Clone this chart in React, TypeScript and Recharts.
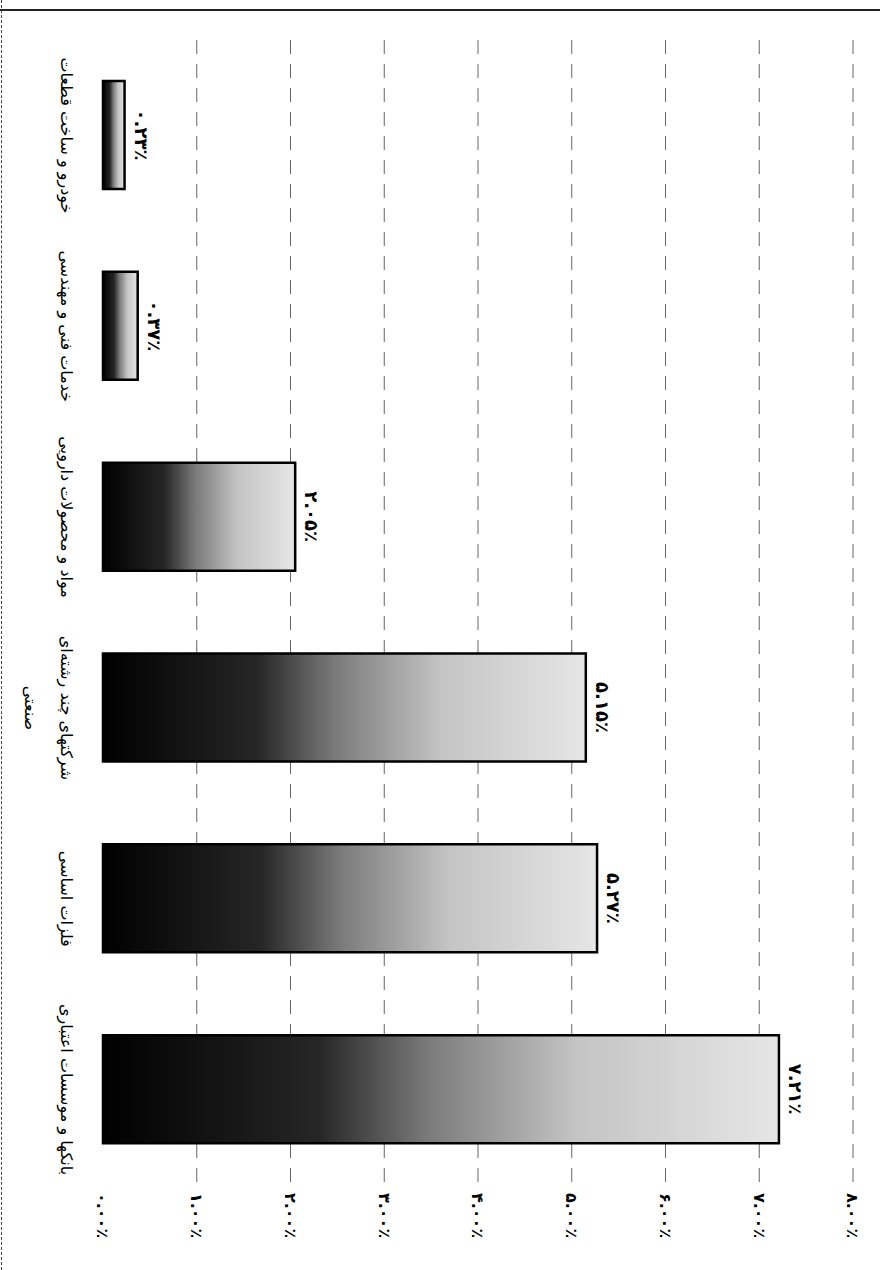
import { BarChart, Bar, XAxis, YAxis, CartesianGrid, LabelList } from 'recharts'

// the scanned page is turned a quarter clockwise, so the chart is drawn upright and rotated with CSS
const categories = [
  'بانکها و موسسات اعتباری',
  'فلزات اساسی',
  'شرکتهای چند رشته‌ای\nصنعتی',
  'مواد و محصولات دارویی',
  'خدمات فنی و مهندسی',
  'خودرو و ساخت قطعات',
]
const values = [7.21, 5.27, 5.15, 2.05, 0.37, 0.23]
const valueLabels = ['۷.۲۱٪', '۵.۲۷٪', '۵.۱۵٪', '۲.۰۵٪', '۰.۳۷٪', '۰.۲۳٪']
const tickValues = [0, 1, 2, 3, 4, 5, 6, 7, 8]
const tickLabels = ['۰.۰۰٪', '۱.۰۰٪', '۲.۰۰٪', '۳.۰۰٪', '۴.۰۰٪', '۵.۰۰٪', '۶.۰۰٪', '۷.۰۰٪', '۸.۰۰٪']

const data = categories.map((name, i) => ({ name, value: values[i], label: valueLabels[i] }))

const FONT = '"DejaVu Sans", sans-serif'

function CategoryTick({ x, y, payload }: any) {
  const lines = String(payload.value).split('\n')
  return (
    <text x={x} y={y} textAnchor="middle" fontFamily={FONT} fontSize={16} fill="#000">
      {lines.map((line, i) => (
        <tspan key={i} x={x} dy={i === 0 ? 34 : 36}>
          {line}
        </tspan>
      ))}
    </text>
  )
}

export default function App() {
  return (
    <div style={{ position: 'absolute', left: 0, top: 0, width: 890, height: 1270, background: '#fff', overflow: 'hidden' }}>
      {/* page edges from the scan */}
      <div style={{ position: 'absolute', left: 0, top: 9, width: 880, height: 0, borderTop: '2px solid #222' }} />
      <div style={{ position: 'absolute', left: 1, top: 0, width: 0, height: 1270, borderLeft: '1px dashed #444' }} />
      <div
        style={{
          position: 'absolute',
          left: 0,
          top: 0,
          width: 1270,
          height: 890,
          transformOrigin: '0 0',
          transform: 'translateX(890px) rotate(90deg)',
        }}
      >
        <BarChart width={1270} height={890} data={data} margin={{ top: 37, right: 0, left: 40, bottom: 0 }}>
          <defs>
            <linearGradient id="barFill" x1="0" y1="0" x2="0" y2="1">
              <stop offset="0%" stopColor="#e6e6e6" />
              <stop offset="30%" stopColor="#c4c4c4" />
              <stop offset="52%" stopColor="#7a7a7a" />
              <stop offset="68%" stopColor="#262626" />
              <stop offset="100%" stopColor="#000" />
            </linearGradient>
          </defs>
          <CartesianGrid
            vertical={false}
            horizontalValues={[1, 2, 3, 4, 5, 6, 7, 8]}
            stroke="#666"
            strokeDasharray="14 10"
          />
          <XAxis
            dataKey="name"
            reversed
            interval={0}
            height={103}
            axisLine={false}
            tickLine={false}
            tick={<CategoryTick />}
          />
          <YAxis
            orientation="right"
            domain={[0, 8]}
            ticks={tickValues}
            tickFormatter={(v: number) => tickLabels[tickValues.indexOf(v)]}
            width={85}
            axisLine={false}
            tickLine={false}
            tick={{ fontFamily: FONT, fontSize: 16, fontWeight: 'bold', fill: '#000' }}
          />
          <Bar dataKey="value" fill="url(#barFill)" stroke="#000" strokeWidth={2.5} barSize={108} isAnimationActive={false}>
            <LabelList dataKey="label" position="top" offset={10} fontFamily={FONT} fontSize={18} fontWeight="bold" fill="#000" />
          </Bar>
        </BarChart>
      </div>
    </div>
  )
}
